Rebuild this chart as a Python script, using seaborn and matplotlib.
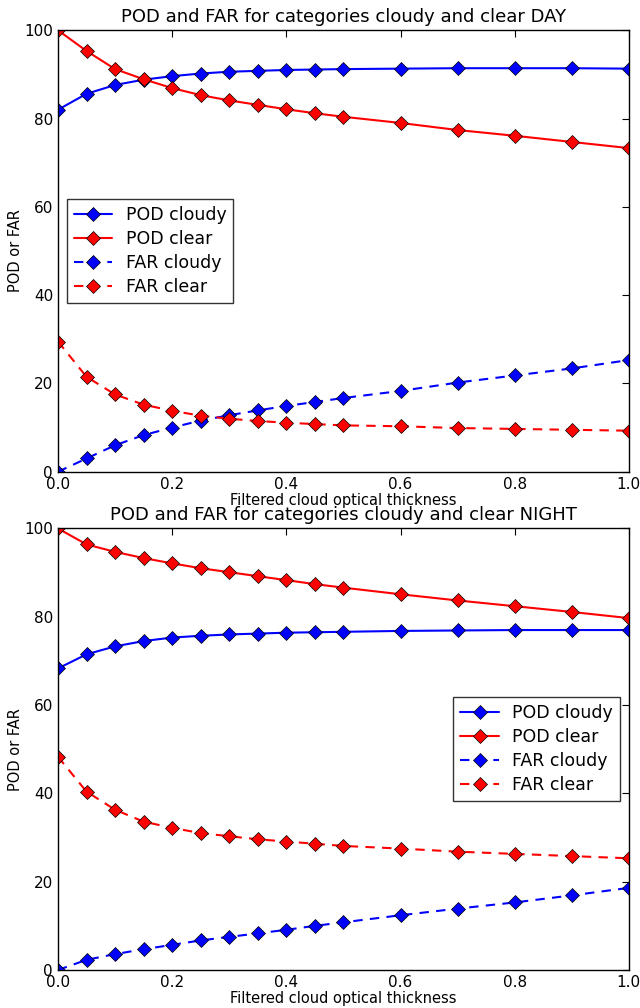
import matplotlib
matplotlib.use("Agg")
import matplotlib.pyplot as plt
import seaborn as sns
import numpy as np

thickness = [0, 0.05, 0.1, 0.15, 0.2, 0.25, 0.3, 0.35, 0.4, 0.45, 0.5, 0.6, 0.7, 0.8, 0.9, 1.0]

# DAY
day_pod_cloudy = [82.0, 85.6, 87.6, 88.8, 89.6, 90.2, 90.6, 90.8, 91.0, 91.1, 91.2, 91.3, 91.4, 91.4, 91.4, 91.3]
day_pod_clear = [100.0, 95.3, 91.2, 88.9, 86.9, 85.3, 84.1, 83.1, 82.1, 81.2, 80.4, 79.0, 77.4, 76.1, 74.7, 73.3]
day_far_cloudy = [0.0, 3.0, 6.0, 8.3, 10.0, 11.6, 12.8, 13.9, 14.9, 15.8, 16.7, 18.3, 20.2, 21.8, 23.4, 25.3]
day_far_clear = [29.5, 21.5, 17.5, 15.2, 13.8, 12.7, 12.0, 11.5, 11.1, 10.8, 10.5, 10.3, 9.9, 9.7, 9.5, 9.3]

# NIGHT
night_pod_cloudy = [68.3, 71.5, 73.3, 74.5, 75.3, 75.7, 76.0, 76.2, 76.4, 76.5, 76.6, 76.8, 76.9, 77.0, 77.0, 77.0]
night_pod_clear = [100.0, 96.4, 94.7, 93.3, 92.1, 91.0, 90.1, 89.2, 88.3, 87.4, 86.6, 85.1, 83.7, 82.4, 81.1, 79.7]
night_far_cloudy = [0.0, 2.3, 3.6, 4.7, 5.7, 6.7, 7.5, 8.3, 9.1, 10.0, 10.8, 12.4, 13.9, 15.3, 16.9, 18.6]
night_far_clear = [48.3, 40.4, 36.3, 33.6, 32.2, 31.0, 30.3, 29.6, 29.1, 28.6, 28.1, 27.5, 26.8, 26.3, 25.8, 25.3]

labels = ["POD cloudy", "POD clear", "FAR cloudy", "FAR clear"]
colors = ["blue", "red", "blue", "red"]
styles = ["-", "-", "--", "--"]

sns.set_style("white")
plt.rcParams["font.family"] = ["DejaVu Sans"]
plt.rcParams["text.color"] = "black"
plt.rcParams["axes.labelcolor"] = "black"
plt.rcParams["xtick.color"] = "black"
plt.rcParams["ytick.color"] = "black"
plt.rcParams["lines.dashed_pattern"] = [4.5, 3.5]


def draw_panel(ax, series, title, legend_loc):
    for vals, lab, col, ls in zip(series, labels, colors, styles):
        sns.lineplot(x=thickness, y=vals, ax=ax, color=col, linestyle=ls,
                     marker="D", markersize=7, markeredgecolor="black",
                     markeredgewidth=0.5, linewidth=1.5, label=lab)
    ax.set_xlim(0, 1)
    ax.set_ylim(0, 100)
    ax.set_xticks([0, 0.2, 0.4, 0.6, 0.8, 1.0])
    ax.set_xticklabels(["0.0", "0.2", "0.4", "0.6", "0.8", "1.0"])
    ax.set_yticks([0, 20, 40, 60, 80, 100])
    ax.tick_params(direction="in", top=True, right=True, length=5, labelsize=11)
    for s in ax.spines.values():
        s.set_color("black")
        s.set_linewidth(1)
    ax.set_title(title, fontsize=13)
    ax.set_xlabel("Filtered cloud optical thickness", fontsize=10.5, labelpad=1)
    ax.set_ylabel("POD or FAR", fontsize=10.5, labelpad=1)
    leg = ax.legend(loc=legend_loc, fontsize=12.5, frameon=True, fancybox=False,
                    handlelength=2.2, borderpad=0.4, labelspacing=0.35)
    leg.get_frame().set_edgecolor("black")
    leg.get_frame().set_linewidth(1)


fig = plt.figure(figsize=(6.4, 10.08), dpi=100)
ax1 = fig.add_axes([0.0906, 0.532, 0.892, 0.438])
ax2 = fig.add_axes([0.0906, 0.0377, 0.892, 0.438])

draw_panel(ax1, [day_pod_cloudy, day_pod_clear, day_far_cloudy, day_far_clear],
           "POD and FAR for categories cloudy and clear DAY", "center left")
draw_panel(ax2, [night_pod_cloudy, night_pod_clear, night_far_cloudy, night_far_clear],
           "POD and FAR for categories cloudy and clear NIGHT", "center right")

fig.savefig("out.png", dpi=100)
